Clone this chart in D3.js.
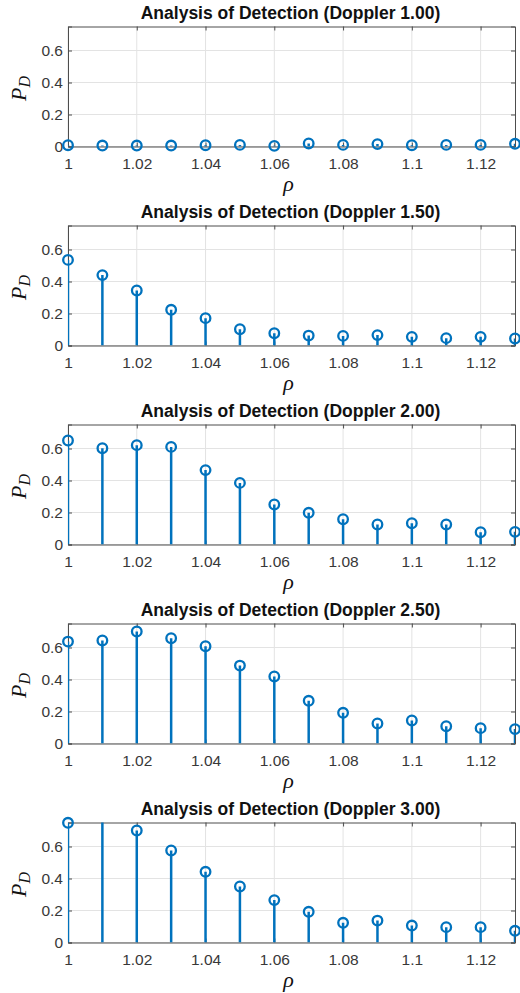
<!DOCTYPE html>
<html>
<head>
<meta charset="utf-8">
<script src="https://cdn.jsdelivr.net/npm/d3@7"></script>
<style>
    body { margin: 0; background: #fff; }
    svg { display: block; }
    .tick text { font-family: "Liberation Sans", Arial, sans-serif; font-size: 15.5px; fill: #383838; }
    .title { font-family: "Liberation Sans", Arial, sans-serif; font-size: 17.5px; font-weight: bold; fill: #111; }
    .lab { font-family: "Liberation Serif", "Times New Roman", serif; font-style: italic; fill: #111; }
</style>
</head>
<body>
<svg id="fig" width="520" height="993"></svg>
<script>
// rho values on the x axis
var rho = [1.00, 1.01, 1.02, 1.03, 1.04, 1.05, 1.06, 1.07, 1.08, 1.09, 1.10, 1.11, 1.12, 1.13];

var doppler = ["1.00", "1.50", "2.00", "2.50", "3.00"];

// detection probability per doppler value
var pd100 = [0.008, 0.006, 0.006, 0.006, 0.008, 0.010, 0.004, 0.019, 0.010, 0.015, 0.008, 0.010, 0.010, 0.017];
var pd150 = [0.535, 0.440, 0.344, 0.223, 0.171, 0.102, 0.077, 0.062, 0.060, 0.065, 0.054, 0.046, 0.054, 0.044];
var pd200 = [0.650, 0.602, 0.621, 0.610, 0.465, 0.385, 0.250, 0.198, 0.158, 0.125, 0.133, 0.125, 0.077, 0.079];
var pd250 = [0.637, 0.644, 0.700, 0.658, 0.608, 0.487, 0.419, 0.267, 0.192, 0.125, 0.144, 0.108, 0.096, 0.090];
var pd300 = [0.748, 0.820, 0.700, 0.575, 0.442, 0.350, 0.265, 0.192, 0.123, 0.137, 0.106, 0.096, 0.096, 0.073];

var series = [pd100, pd150, pd200, pd250, pd300];

var xTicks = [1, 1.02, 1.04, 1.06, 1.08, 1.1, 1.12];
var xTickLabels = ["1", "1.02", "1.04", "1.06", "1.08", "1.1", "1.12"];
var yTicks = [0, 0.2, 0.4, 0.6];
var yTickLabels = ["0", "0.2", "0.4", "0.6"];

var blue = "#0072BD";
var left = 68, right = 515, h = 120;

var svg = d3.select("#fig");

var x = d3.scaleLinear().domain([1, 1.13]).range([left, right]);

series.forEach(function(vals, i) {
    var top = 26.5 + i * 199;
    var y = d3.scaleLinear().domain([0, 0.75]).range([top + h, top]);
    var g = svg.append("g");

    // grid
    g.selectAll(".vg").data(xTicks).enter().append("line")
        .attr("x1", function(d) { return x(d); })
        .attr("x2", function(d) { return x(d); })
        .attr("y1", top).attr("y2", top + h)
        .attr("stroke", "#e3e3e3").attr("stroke-width", 1);
    g.selectAll(".hg").data(yTicks).enter().append("line")
        .attr("x1", left).attr("x2", right)
        .attr("y1", function(d) { return y(d); })
        .attr("y2", function(d) { return y(d); })
        .attr("stroke", "#e3e3e3").attr("stroke-width", 1);

    // axes, ticks pointing inwards
    var ax = g.append("g").attr("transform", "translate(0," + (top + h) + ")")
        .call(d3.axisBottom(x).tickValues(xTicks).tickSize(-4).tickPadding(11)
            .tickFormat(function(d, k) { return xTickLabels[k]; }));
    var at = g.append("g").attr("transform", "translate(0," + top + ")")
        .call(d3.axisTop(x).tickValues(xTicks).tickSize(-4).tickFormat(""));
    var ay = g.append("g").attr("transform", "translate(" + left + ",0)")
        .call(d3.axisLeft(y).tickValues(yTicks).tickSize(-4).tickPadding(5)
            .tickFormat(function(d, k) { return yTickLabels[k]; }));
    var ar = g.append("g").attr("transform", "translate(" + right + ",0)")
        .call(d3.axisRight(y).tickValues(yTicks).tickSize(-4).tickFormat(""));
    [ax, at, ay, ar].forEach(function(a) {
        a.attr("font-family", null).attr("font-size", null);
        a.selectAll(".domain").attr("stroke", "#4d4d4d").attr("stroke-width", 1);
        a.selectAll(".tick line").attr("stroke", "#4d4d4d");
    });

    // clip the stems to the axes box
    svg.append("clipPath").attr("id", "clip" + i)
        .append("rect").attr("x", left).attr("y", top).attr("width", right - left).attr("height", h);

    var pts = rho.map(function(r, k) { return { r: r, v: vals[k] }; });

    g.append("g").attr("clip-path", "url(#clip" + i + ")")
        .selectAll("line").data(pts).enter().append("line")
        .attr("x1", function(d) { return x(d.r); })
        .attr("x2", function(d) { return x(d.r); })
        .attr("y1", y(0))
        .attr("y2", function(d) { return y(d.v); })
        .attr("stroke", blue).attr("stroke-width", 2.5);

    // markers outside the y limits are not drawn
    g.selectAll("circle").data(pts.filter(function(d) { return d.v <= 0.75; }))
        .enter().append("circle")
        .attr("cx", function(d) { return x(d.r); })
        .attr("cy", function(d) { return y(d.v); })
        .attr("r", 4.8)
        .attr("fill", "none")
        .attr("stroke", blue).attr("stroke-width", 2.3);

    g.append("text").attr("class", "title")
        .attr("x", (left + right) / 2 - 1).attr("y", top - 8)
        .attr("text-anchor", "middle")
        .text("Analysis of Detection (Doppler " + doppler[i] + ")");

    g.append("text").attr("class", "lab")
        .attr("x", (left + right) / 2 - 3).attr("y", top + h + 44)
        .attr("text-anchor", "middle")
        .style("font-size", "22px")
        .text("ρ");

    var yl = g.append("text").attr("class", "lab")
        .attr("transform", "translate(26," + (top + h / 2 + 2) + ") rotate(-90)")
        .attr("text-anchor", "middle")
        .style("font-size", "22px");
    yl.append("tspan").text("P");
    yl.append("tspan").attr("dy", 4).style("font-size", "16px").text("D");
});
</script>
</body>
</html>
